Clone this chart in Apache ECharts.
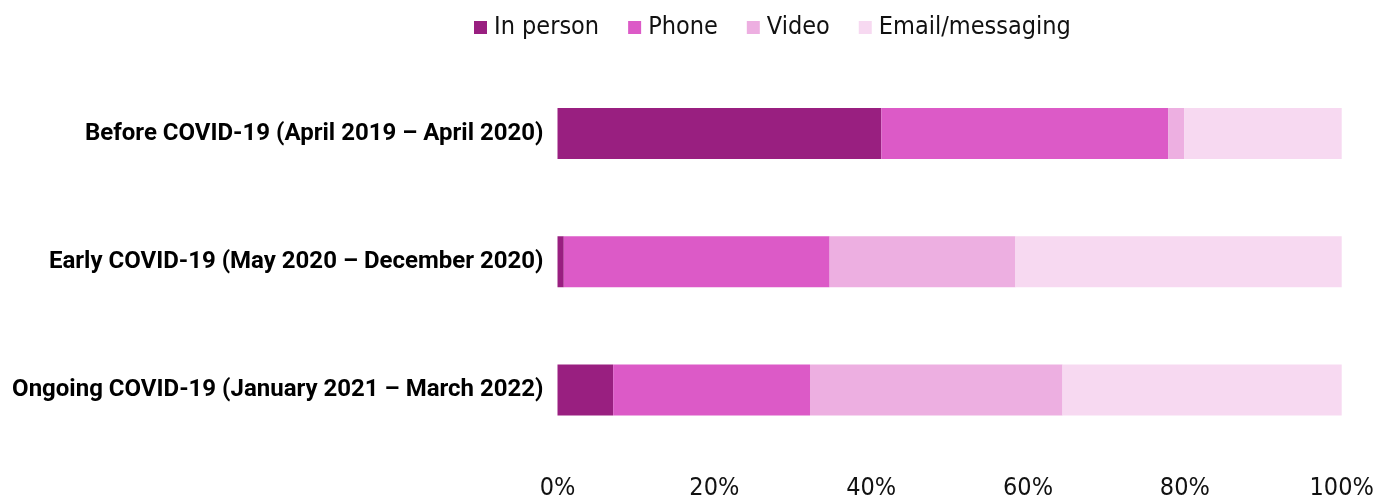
<!DOCTYPE html>
<html>
<head>
<meta charset="utf-8">
<script src="https://cdn.jsdelivr.net/npm/echarts@6/dist/echarts.min.js"></script>
<style>
  html, body { margin: 0; padding: 0; background: #ffffff; }
  #chart { width: 1390px; height: 502px; }
</style>
</head>
<body>
<div id="chart"></div>
<script>
// Periods, top to bottom
const periods = [
  'Before COVID-19 (April 2019 \u2013 April 2020)',
  'Early COVID-19 (May 2020 \u2013 December 2020)',
  'Ongoing COVID-19 (January 2021 \u2013 March 2022)'
];

// Share of consultations by mode (%), in the same order as periods
const inPerson = [41.3, 0.8, 7.1];
const phone = [36.6, 33.9, 25.1];
const video = [2.0, 23.7, 32.2];
const emailMessaging = [20.1, 41.6, 35.6];

const seriesNames = ['In person', 'Phone', 'Video', 'Email/messaging'];
const seriesData = [inPerson, phone, video, emailMessaging];
const colors = ['#991f80', '#dc5ac7', '#edafe1', '#f7d9f1'];

const tickFont = '"DejaVu Sans Condensed", "DejaVu Sans", sans-serif';
const catFont = 'Roboto, "Liberation Sans", sans-serif';

const chart = echarts.init(document.getElementById('chart'), null, { renderer: 'canvas' });

chart.setOption({
  animation: false,
  color: colors,
  legend: {
    top: 10,
    left: 469,
    itemWidth: 13,
    itemHeight: 13,
    itemGap: 29,
    icon: 'rect',
    textStyle: { fontFamily: tickFont, fontSize: 25, color: '#111111', padding: [0, 0, 0, 2] },
    data: seriesNames
  },
  grid: { left: 557.5, right: 48.3, top: 69.5, bottom: 48, containLabel: false },
  xAxis: {
    type: 'value',
    min: 0,
    max: 100,
    interval: 20,
    axisLine: { show: false },
    axisTick: { show: false },
    splitLine: { show: false },
    axisLabel: {
      formatter: '{value}%',
      fontFamily: tickFont,
      fontSize: 25,
      color: '#111111',
      margin: 22
    }
  },
  yAxis: {
    type: 'category',
    inverse: true,
    data: periods,
    axisLine: { show: false },
    axisTick: { show: false },
    axisLabel: {
      fontFamily: catFont,
      fontWeight: 'bold',
      fontSize: 24,
      color: '#000000',
      margin: 14
    }
  },
  series: seriesNames.map((name, i) => ({
    name: name,
    type: 'bar',
    stack: 'total',
    barWidth: 51,
    data: seriesData[i],
    itemStyle: { color: colors[i] }
  }))
});
</script>
</body>
</html>
